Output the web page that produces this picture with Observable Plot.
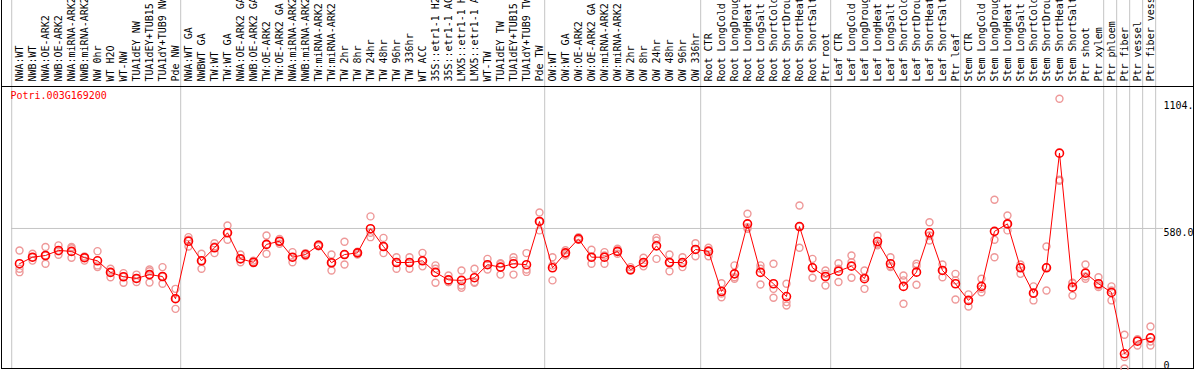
<!DOCTYPE html>
<html>
<head>
<meta charset="utf-8">
<script src="https://cdn.jsdelivr.net/npm/d3@7"></script>
<script src="https://cdn.jsdelivr.net/npm/@observablehq/plot@0.6"></script>
<style>
  html, body { margin: 0; padding: 0; background: #fff; }
</style>
</head>
<body>
<div id="chart"></div>
<script>
const title = "Potri.003G169200";

const samples = [
  "NWA:WT","NWB:WT","NWA:OE-ARK2","NWB:OE-ARK2","NWA:miRNA-ARK2","NWB:miRNA-ARK2","NW 0hr","WT H2O","WT-NW","TUA1dEY NW","TUA1dEY+TUB15","TUA1dY+TUB9 NW","Pde NW",
  "NWA:WT GA","NWBWT GA","TW:WT","TW:WT GA","NWA:OE-ARK2 GA","NWB:OE-ARK2 GA","TW:OE-ARK2","TW:OE-ARK2 GA","NWA:miRNA-ARK2","NWB:miRNA-ARK2","TW:miRNA-ARK2","TW:miRNA-ARK2","TW 2hr","TW 8hr","TW 24hr","TW 48hr","TW 96hr","TW 336hr","WT ACC","35S::etr1-1 H2O","35S::etr1-1 ACC","LMX5::etr1-1 H2O","LMX5::etr1-1 ACC","WT-TW","TUA1dEY TW","TUA1dEY+TUB15","TUA1dY+TUB9 TW","Pde TW",
  "OW:WT","OW:WT GA","OW:OE-ARK2","OW:OE-ARK2 GA","OW:miRNA-ARK2","OW:miRNA-ARK2","OW 2hr","OW 8hr","OW 24hr","OW 48hr","OW 96hr","OW 336hr",
  "Root CTR","Root LongCold","Root LongDrought","Root LongHeat","Root LongSalt","Root ShortCold","Root ShortDrought","Root ShortHeat","Root ShortSalt","Ptr root",
  "Leaf CTR","Leaf LongCold","Leaf LongDrought","Leaf LongHeat","Leaf LongSalt","Leaf ShortCold","Leaf ShortDrought","Leaf ShortHeat","Leaf ShortSalt","Ptr leaf",
  "Stem CTR","Stem LongCold","Stem LongDrought","Stem LongHeat","Stem LongSalt","Stem ShortCold","Stem ShortDrought","Stem ShortHeat","Stem ShortSalt","Ptr shoot","Ptr xylem",
  "Ptr phloem","Ptr fiber","Ptr vessel","Ptr fiber vessel"
];

// mean expression (red line)
const means = [
  434,461,468,489,485,459,446,398,380,373,389,381,289,
  527,446,500,562,454,440,514,527,461,472,510,438,472,479,579,505,439,439,446,398,367,365,376,430,420,434,430,609,
  417,479,537,461,461,485,409,439,508,439,439,493,
  485,319,392,599,398,351,298,588,417,381,
  403,424,372,526,434,340,399,562,406,351,
  282,340,568,599,417,312,417,892,337,395,351,
  315,61,113,127
];

// replicates (pink circles)
const rep1 = [
  489,475,503,510,503,464,486,413,395,389,410,420,330,
  544,475,519,592,472,447,551,537,482,478,514,472,525,484,630,541,461,461,479,427,385,406,413,454,436,461,478,646,
  461,490,544,492,482,496,420,459,541,472,461,519,
  500,353,427,641,427,434,351,675,454,406,
  436,468,406,551,461,385,434,606,431,392,
  307,372,699,634,431,340,505,1117,353,431,378,
  340,140,121,174
];
const rep2 = [
  413,461,468,486,498,459,427,398,380,373,403,381,289,
  533,446,505,562,454,440,514,527,461,472,510,438,472,479,562,505,439,439,446,413,358,344,358,430,433,447,410,609,
  427,475,537,461,468,485,409,436,530,439,436,493,
  490,310,378,585,413,330,275,588,420,392,
  413,440,378,517,424,365,424,551,406,365,
  282,330,533,599,420,312,420,782,355,381,344,
  323,47,116,112
];
const rep3 = [
  399,447,434,471,459,447,420,378,355,358,356,351,247,
  505,413,478,533,440,436,475,517,440,466,506,406,431,472,544,478,413,413,423,355,358,334,355,410,389,389,400,572,
  365,468,533,434,434,475,406,423,454,403,420,465,
  465,295,372,579,348,293,261,500,376,344,
  358,376,330,510,420,268,347,530,378,286,
  257,316,461,572,392,282,323,777,302,372,337,
  282,0,95,95
];

// first sample index of each group (grey separators), plus end
const groupStarts = [0,13,41,53,63,73,84,85,86,87,88];

const yTicks = [1104, 580, 0];
const yTickLabels = ["1104.", "580.0", "0"];
const gridValues = [580];

const xDomain = [-1.385, 90.31];

const reps = [];
[rep1, rep2, rep3].forEach(arr => arr.forEach((v, i) => reps.push({i, v})));
const meanRows = means.map((v, i) => ({i, v}));
const labelRows = samples.map((s, i) => ({i, s}));
const tickRows = yTicks.map((v, k) => ({v, t: yTickLabels[k]}));

const grey = "#c4c4c4";

const chart = Plot.plot({
  width: 1194,
  height: 370,
  marginTop: 86,
  marginBottom: 2,
  marginLeft: 1,
  marginRight: 1,
  x: {type: "linear", domain: xDomain, axis: null},
  y: {domain: [0, 1168], axis: null},
  style: {fontFamily: "'DejaVu Sans Mono', monospace", fontSize: "10px", background: "white", overflow: "hidden"},
  marks: [
    Plot.ruleX(groupStarts, {x: d => d - 0.6, stroke: grey, strokeWidth: 1, insetTop: -86}),
    Plot.ruleY(gridValues, {y: d => d, stroke: grey, strokeWidth: 1, insetLeft: 10, insetRight: 30}),
    Plot.frame({stroke: "black", strokeWidth: 1}),
    Plot.ruleX(xDomain, {x: d => d, stroke: "black", strokeWidth: 1, insetTop: -86}),
    Plot.dot(reps, {x: "i", y: "v", r: 3.5, stroke: "#ee9898", strokeWidth: 1.4, fill: "none"}),
    Plot.line(meanRows, {x: "i", y: "v", stroke: "#ff0000", strokeWidth: 1}),
    Plot.dot(meanRows, {x: "i", y: "v", r: 4, stroke: "#ff0000", strokeWidth: 1.6, fill: "none"}),
    Plot.text(labelRows, {x: "i", text: "s", frameAnchor: "top", dy: -5, rotate: -90, textAnchor: "start", lineAnchor: "middle", fill: "black"}),
    Plot.text([title], {text: d => d, frameAnchor: "top-left", dx: 9, dy: 5, textAnchor: "start", lineAnchor: "top", fill: "#ff0000"}),
    Plot.text(tickRows.filter(d => d.v > 0), {y: "v", text: "t", frameAnchor: "right", dx: -30, textAnchor: "start", lineAnchor: "top", fill: "black"}),
    Plot.text(tickRows.filter(d => d.v === 0), {y: "v", text: "t", frameAnchor: "right", dx: -30, textAnchor: "start", lineAnchor: "bottom", fill: "black"})
  ]
});
document.getElementById("chart").appendChild(chart);
</script>
</body>
</html>
